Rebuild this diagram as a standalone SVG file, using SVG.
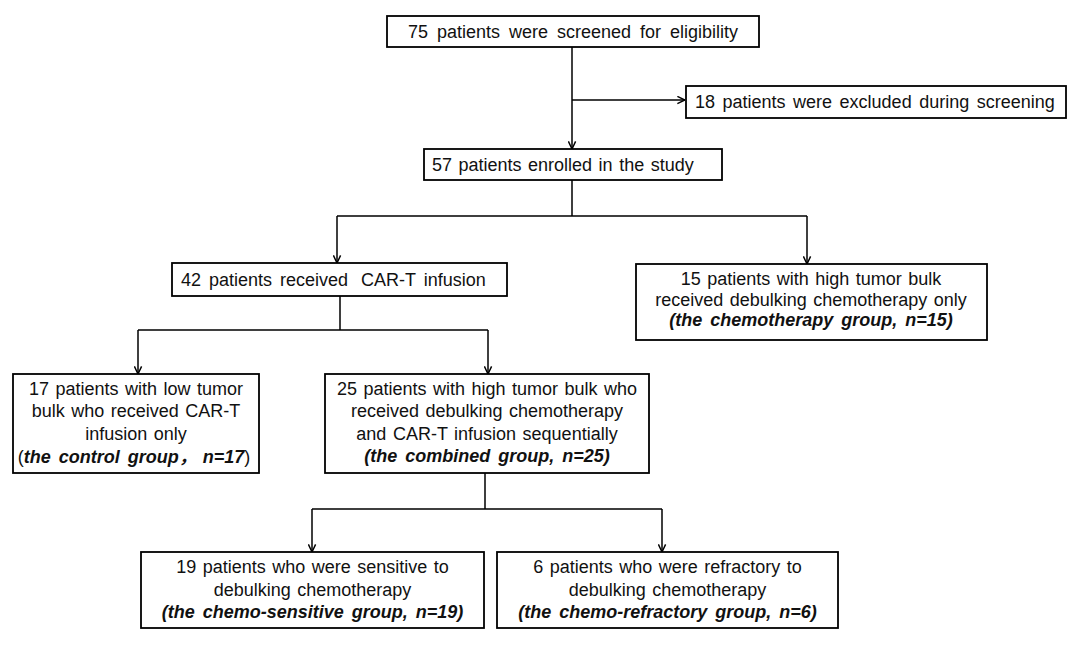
<svg xmlns="http://www.w3.org/2000/svg" width="1080" height="656" viewBox="0 0 1080 656">
<style>
.box{fill:#fff;stroke:#000;stroke-width:1.8}
.t{font-family:"Liberation Sans",Arial,"Noto Sans CJK SC",sans-serif;font-size:18px;fill:#111;word-spacing:1.5px}
.c{text-anchor:middle}
.bi{font-weight:bold;font-style:italic;word-spacing:3px}
.ln{fill:none;stroke:#000;stroke-width:1.5}
</style>
<defs>
<marker id="ar" viewBox="0 0 10 10" refX="9.5" refY="5" markerWidth="9" markerHeight="9" markerUnits="userSpaceOnUse" orient="auto">
<path d="M1,1 L9.5,5 L1,9" fill="none" stroke="#000" stroke-width="1.6"/>
</marker>
</defs>
<rect width="1080" height="656" fill="#fff"/>
<g id="connectors">
<path class="ln" d="M572,47 V149" marker-end="url(#ar)"/>
<path class="ln" d="M572,100 H685" marker-end="url(#ar)"/>
<path class="ln" d="M572,180 V216 M337,216 H807"/>
<path class="ln" d="M337,216 V263" marker-end="url(#ar)"/>
<path class="ln" d="M807,216 V264" marker-end="url(#ar)"/>
<path class="ln" d="M340,296 V330 M138,330 H488"/>
<path class="ln" d="M138,330 V374" marker-end="url(#ar)"/>
<path class="ln" d="M488,330 V374" marker-end="url(#ar)"/>
<path class="ln" d="M485,473 V509 M312,509 H662"/>
<path class="ln" d="M312,509 V552" marker-end="url(#ar)"/>
<path class="ln" d="M662,509 V552" marker-end="url(#ar)"/>
</g>
<g id="screened">
<rect class="box" x="387" y="16" width="372" height="31"/>
<text class="t c" x="573" y="38" style="word-spacing:4px">75 patients were screened for eligibility</text>
</g>
<g id="excluded">
<rect class="box" x="686" y="86" width="380" height="32"/>
<text class="t" x="695" y="108" style="word-spacing:2.5px">18 patients were excluded during screening</text>
</g>
<g id="enrolled">
<rect class="box" x="424" y="149" width="298" height="31"/>
<text class="t" x="432" y="171">57 patients enrolled in the study</text>
</g>
<g id="cart">
<rect class="box" x="172" y="263" width="335" height="33"/>
<text class="t" x="181" y="286" style="word-spacing:3px">42 patients received <tspan dx="5">CAR-T infusion</tspan></text>
</g>
<g id="chemo">
<rect class="box" x="636" y="264" width="351" height="76"/>
<text class="t c" x="811" y="285">15 patients with high tumor bulk</text>
<text class="t c" x="811" y="305.5">received debulking chemotherapy only</text>
<text class="t c bi" x="811" y="326">(the chemotherapy group, n=15)</text>
</g>
<g id="control">
<rect class="box" x="13" y="374" width="246" height="99"/>
<text class="t c" x="136" y="395">17 patients with low tumor</text>
<text class="t c" x="136" y="417">bulk who received CAR-T</text>
<text class="t c" x="136" y="440">infusion only</text>
<text class="t c" x="134" y="463">(<tspan class="bi">the control group，<tspan dx="6">n=17</tspan></tspan>)</text>
</g>
<g id="combined">
<rect class="box" x="325" y="374" width="324" height="99"/>
<text class="t c" x="487" y="395">25 patients with high tumor bulk who</text>
<text class="t c" x="487" y="417">received debulking chemotherapy</text>
<text class="t c" x="487" y="440">and CAR-T infusion sequentially</text>
<text class="t c bi" x="487" y="462">(the combined group, n=25)</text>
</g>
<g id="sensitive">
<rect class="box" x="141" y="552" width="343" height="76"/>
<text class="t c" x="312.5" y="573">19 patients who were sensitive to</text>
<text class="t c" x="312.5" y="596">debulking chemotherapy</text>
<text class="t c bi" x="312.5" y="618">(the chemo-sensitive group, n=19)</text>
</g>
<g id="refractory">
<rect class="box" x="497" y="552" width="341" height="76"/>
<text class="t c" x="667.5" y="573">6 patients who were refractory to</text>
<text class="t c" x="667.5" y="596">debulking chemotherapy</text>
<text class="t c bi" x="667.5" y="618">(the chemo-refractory group, n=6)</text>
</g>
</svg>
